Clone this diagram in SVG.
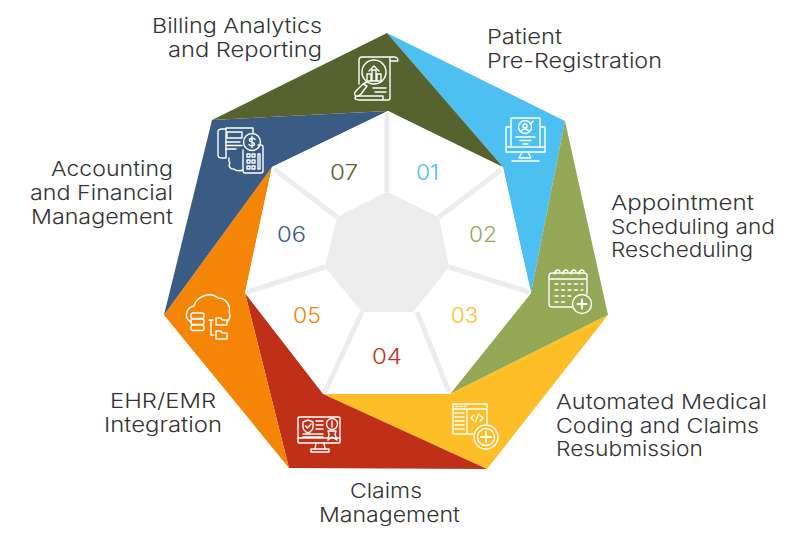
<svg xmlns="http://www.w3.org/2000/svg" width="806" height="543" viewBox="0 0 806 543">
<style>
.lb{font-family:Inter,"Liberation Sans",sans-serif;font-size:20.500px;font-weight:300;fill:#333}
.n{font-family:Inter,"Liberation Sans",sans-serif;font-size:21px;font-weight:300}
.i{fill:none;stroke:#fff;stroke-width:1.400;stroke-linecap:round;stroke-linejoin:round}
.sp{stroke:#eeedee;stroke-width:5;fill:none}
</style>
<rect width="806" height="543" fill="#fff"/>
<g id="ring">
<polygon points="387,33 565,121 531,293 503,167" fill="#4dbff0"/>
<polygon points="565,121 608,315 450,394 531,293" fill="#94a857"/>
<polygon points="608,315 487,469 323,394 450,394" fill="#febe27"/>
<polygon points="487,469 289,468 245,293 323,394" fill="#c03018"/>
<polygon points="289,468 164,315 272,167 245,293" fill="#f58507"/>
<polygon points="164,315 212,120 388,111 272,167" fill="#3a5c84"/>
<polygon points="212,120 387,33 503,167 388,111" fill="#57632f"/>
</g>
<g id="hub">
<polygon points="388,111 503,168 531,293 450,394 324,394 245,293 272,167" fill="#fff"/>
<g class="sp">
<path d="M387 113V192M501 170L439 217M529 292L449 267M449 392L417 312M325 392L362 312M247 292L325 267M274 169L337 217"/>
</g>
<polygon points="387,192 439,217 449,267 413,312 362,312 325,267 337,217" fill="#eeedee"/>
</g>
<g id="step-1">
<text class="n" x="416" y="180" fill="#4dbff0" textLength="23" lengthAdjust="spacingAndGlyphs">01</text>
<text class="lb"><tspan x="487" y="44" textLength="75" lengthAdjust="spacingAndGlyphs">Patient</tspan><tspan x="487" y="68" textLength="175" lengthAdjust="spacingAndGlyphs">Pre-Registration</tspan></text>
<g class="i"><rect x="511" y="118" width="29" height="29"/><path d="M511 127H506V152H545V127H540M506 147H511M540 147H545"/><circle cx="525" cy="127" r="6.500"/><circle cx="525" cy="126" r="2"/><path d="M521 132C522 128 528 128 529 132M531 124L533 121M516 137H535M520 140.500H531M523 144H528M522 152L519 158H531L528 152M512 161H539"/></g>
</g>
<g id="step-2">
<text class="n" x="469" y="242" fill="#94a857" textLength="28" lengthAdjust="spacingAndGlyphs">02</text>
<text class="lb"><tspan x="611" y="210" textLength="143" lengthAdjust="spacingAndGlyphs">Appointment</tspan><tspan x="611" y="234" textLength="164" lengthAdjust="spacingAndGlyphs">Scheduling and</tspan><tspan x="611" y="257" textLength="142" lengthAdjust="spacingAndGlyphs">Rescheduling</tspan></text>
<g class="i"><path d="M572 307H552Q549 307 549 304V276Q549 273 552 273H584Q587 273 587 276V294M549 279H587"/><path d="M555 274C555 269 560 269 560 272M563 274C563 269 568 269 568 272M571 274C571 269 576 269 576 272M579 274C579 269 584 269 584 272"/><path d="M555 284H583M555 290H583M555 296H573M555 302H568" stroke-dasharray="3 3.500"/><circle cx="582" cy="304" r="9.500"/><path d="M577.500 304H586.500M582 299.500V308.500" stroke-width="2"/></g>
</g>
<g id="step-3">
<text class="n" x="451" y="323" fill="#febe27" textLength="27" lengthAdjust="spacingAndGlyphs">03</text>
<text class="lb"><tspan x="556" y="409" textLength="211" lengthAdjust="spacingAndGlyphs">Automated Medical</tspan><tspan x="556" y="433" textLength="203" lengthAdjust="spacingAndGlyphs">Coding and Claims</tspan><tspan x="556" y="456" textLength="147" lengthAdjust="spacingAndGlyphs">Resubmission</tspan></text>
<g class="i"><path d="M473 434H453V404H487V424M453 409H487M467 409V434"/><path d="M456 406.500H458M460 406.500H462M464 406.500H466M455 413H464M455 417H464M455 421H464M455 425H464M455 429H464"/><path d="M474 415L471 418L474 421M480 415L483 418L480 421M478.500 414L475.500 422"/><circle cx="486" cy="437" r="12"/><circle cx="486" cy="437" r="8.500"/><path d="M481 437H491M486 432V442" stroke-width="1.800"/></g>
</g>
<g id="step-4">
<text class="n" x="372" y="364" fill="#c03018" textLength="30" lengthAdjust="spacingAndGlyphs">04</text>
<text class="lb"><tspan x="350" y="498" textLength="72" lengthAdjust="spacingAndGlyphs">Claims</tspan><tspan x="319" y="522" textLength="141" lengthAdjust="spacingAndGlyphs">Management</tspan></text>
<g class="i"><rect x="298" y="417" width="42" height="26" rx="1"/><path d="M298 438H340M316 443L315 449M324 443L325 449M311 452H329V449H311ZM308 420L313 422V427C313 430 310 432 308 433C306 432 303 430 303 427V422ZM305.500 426L307.500 428L311 424M316 421H323M316 425H323M316 429H323M303 434H323M303 437H323"/><circle cx="332" cy="424" r="5.500"/><path d="M332 421V427M328 431H336L335 434L337 440L332 437L328 440L329 434Z"/></g>
</g>
<g id="step-5">
<text class="n" x="293" y="323" fill="#f58507" textLength="28" lengthAdjust="spacingAndGlyphs">05</text>
<text class="lb"><tspan x="110" y="408" textLength="106" lengthAdjust="spacingAndGlyphs">EHR/EMR</tspan><tspan x="104" y="432" textLength="118" lengthAdjust="spacingAndGlyphs">Integration</tspan></text>
<g class="i"><path d="M191 322C184 319 185 308 194 306C196 297 210 291 218 298C226 298 231 306 229 312C231 316 230 319 227 322"/><rect x="191" y="313" width="13" height="5.500" rx="2"/><rect x="191" y="319" width="13" height="5.500" rx="2"/><rect x="191" y="325" width="13" height="5.500" rx="2"/><path d="M209 320H213M211 320V335H214M216 318H221L222 320H227V325H216ZM216 331H221L222 333H227V339H216Z"/></g>
</g>
<g id="step-6">
<text class="n" x="277" y="242" fill="#3a5c84" textLength="29" lengthAdjust="spacingAndGlyphs">06</text>
<text class="lb"><tspan x="51" y="176" textLength="122" lengthAdjust="spacingAndGlyphs">Accounting</tspan><tspan x="30" y="200" textLength="143" lengthAdjust="spacingAndGlyphs">and Financial</tspan><tspan x="31" y="224" textLength="142" lengthAdjust="spacingAndGlyphs">Management</tspan></text>
<g class="i"><path d="M226 128H253V134M226 128V158M218 132Q218 129 222 129H226M218 132V155Q218 158 222 158H226V129"/><rect x="227" y="132" width="15" height="6"/><path d="M226 142H240M226 145.500H242M226 149H236M229 158C229 160 228 162 230 163C228 165 230 170 234 169C236 171 240 171 243 170"/><path d="M243 150V171Q243 173 245 173H261Q263 173 263 171V147Q263 145 261 145H258"/><circle cx="252" cy="142" r="8.500"/><path d="M255 139.500C254 137.500 249.500 138 249.500 140.200C249.500 142.700 254.500 141.500 254.500 144C254.500 146.200 250 146.500 249 144.500M252 136.500V147.500"/><path d="M247 154H250V157H247ZM252 154H255V157H252ZM247 160H250V163H247ZM252 160H255V163H252ZM247 166H250V169H247ZM252 166H255V169H252ZM258 154H260V169H258Z"/></g>
</g>
<g id="step-7">
<text class="n" x="330" y="180" fill="#57632f" textLength="28" lengthAdjust="spacingAndGlyphs">07</text>
<text class="lb"><tspan x="152" y="33" textLength="170" lengthAdjust="spacingAndGlyphs">Billing Analytics</tspan><tspan x="168" y="57" textLength="154" lengthAdjust="spacingAndGlyphs">and Reporting</tspan></text>
<g class="i"><path d="M359 84V60Q359 57 362 57H394Q398 57 398 61H390M390 58V98Q390 100 388 100H360Q355 100 355 98Q355 96 359 96H383V100"/><circle cx="374" cy="72" r="12"/><path d="M367 82L363 84M363 84L356 91Q353 94 356 96Q358 97 361 94L367 86Z"/><path d="M367 80V74H371V80M372 80V70H376V80M377 80V74H381V80M366 81H382M369 71L374 66L379 71"/><path d="M373 88H386M375 92H386"/></g>
</g>
</svg>
